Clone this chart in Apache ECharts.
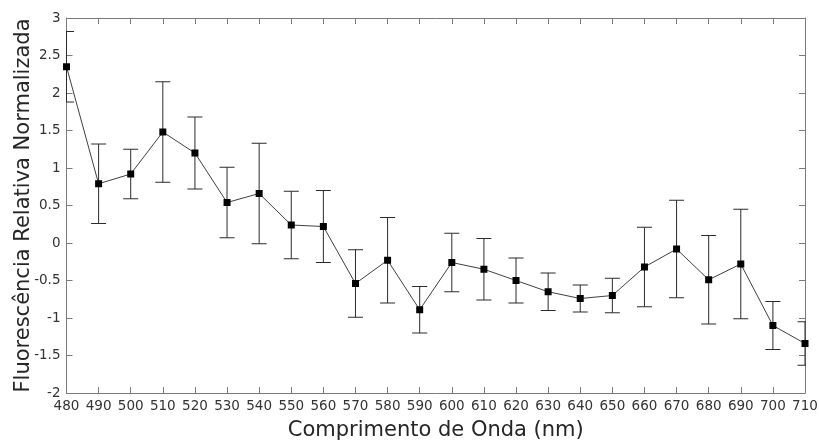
<!DOCTYPE html>
<html>
<head>
<meta charset="utf-8">
<title>Fluorescência Relativa Normalizada</title>
<script src="https://cdn.jsdelivr.net/npm/echarts@6/dist/echarts.min.js"></script>
<style>
    html, body { margin: 0; padding: 0; background: #fff; }
    #main { width: 819px; height: 441px; }
</style>
</head>
<body>
<div id="main"></div>
<script>
    // comprimentos de onda (nm)
    var wavelengths = [480, 490, 500, 510, 520, 530, 540, 550, 560, 570, 580, 590,
                       600, 610, 620, 630, 640, 650, 660, 670, 680, 690, 700, 710];
    // media normalizada
    var means = [2.35, 0.79, 0.92, 1.48, 1.20, 0.54, 0.66, 0.24, 0.22, -0.54, -0.23, -0.89,
                 -0.26, -0.35, -0.50, -0.65, -0.74, -0.70, -0.32, -0.08, -0.49, -0.28, -1.10, -1.34];
    // desvio (barra de erro)
    var errors = [0.47, 0.53, 0.33, 0.67, 0.48, 0.47, 0.67, 0.45, 0.48, 0.45, 0.57, 0.31,
                  0.39, 0.41, 0.30, 0.25, 0.18, 0.23, 0.53, 0.65, 0.59, 0.73, 0.32, 0.29];

    var lineData = [];
    var errData = [];
    for (var i = 0; i < wavelengths.length; i++) {
        lineData.push([wavelengths[i], means[i]]);
        errData.push([wavelengths[i], means[i] - errors[i], means[i] + errors[i]]);
    }

    var axisGray = '#7a7a7a';
    var font = 'DejaVu Sans';

    function frameAxis(extra) {
        var base = {
            type: 'value',
            axisLine: { show: true, onZero: false, lineStyle: { color: axisGray, width: 1 } },
            axisTick: { show: true, inside: true, length: 6, lineStyle: { color: axisGray } },
            splitLine: { show: false }
        };
        for (var k in extra) { base[k] = extra[k]; }
        return base;
    }

    var myChart = echarts.init(document.getElementById('main'));

    var option = {
        animation: false,
        backgroundColor: '#fff',
        textStyle: { fontFamily: font },
        grid: { left: 66.5, right: 14, top: 18, bottom: 48, containLabel: false, outerBoundsMode: 'none' },
        xAxis: [
            frameAxis({
                min: 480, max: 710, interval: 10,
                name: 'Comprimento de Onda (nm)',
                nameLocation: 'middle',
                nameGap: 27,
                nameMoveOverlap: false,
                nameTextStyle: { fontFamily: font, fontSize: 21, color: '#262626' },
                axisLabel: { fontFamily: font, fontSize: 13.5, color: '#333', margin: 6 }
            }),
            frameAxis({
                position: 'top',
                min: 480, max: 710, interval: 10,
                axisLabel: { show: false }
            })
        ],
        yAxis: [
            frameAxis({
                min: -2, max: 3, interval: 0.5,
                name: 'Fluorescência Relativa Normalizada',
                nameLocation: 'middle',
                nameGap: 32,
                nameMoveOverlap: false,
                nameTextStyle: { fontFamily: font, fontSize: 21, color: '#262626' },
                axisLabel: { fontFamily: font, fontSize: 13.5, color: '#333', margin: 6 }
            }),
            frameAxis({
                position: 'right',
                min: -2, max: 3, interval: 0.5,
                axisLabel: { show: false }
            })
        ],
        series: [
            {
                type: 'custom',
                name: 'erro',
                xAxisIndex: 0,
                yAxisIndex: 0,
                clip: true,
                data: errData,
                renderItem: function (params, api) {
                    var x = api.value(0);
                    var lo = api.coord([x, api.value(1)]);
                    var hi = api.coord([x, api.value(2)]);
                    var w = 7.5;
                    var st = { stroke: '#2b2b2b', lineWidth: 1 };
                    return {
                        type: 'group',
                        children: [
                            { type: 'line', shape: { x1: lo[0], y1: lo[1], x2: hi[0], y2: hi[1] }, style: st },
                            { type: 'line', shape: { x1: hi[0] - w, y1: hi[1], x2: hi[0] + w, y2: hi[1] }, style: st },
                            { type: 'line', shape: { x1: lo[0] - w, y1: lo[1], x2: lo[0] + w, y2: lo[1] }, style: st }
                        ]
                    };
                },
                z: 2
            },
            {
                type: 'line',
                name: 'media',
                xAxisIndex: 0,
                yAxisIndex: 0,
                data: lineData,
                symbol: 'rect',
                symbolSize: 7,
                itemStyle: { color: '#000' },
                lineStyle: { color: '#404040', width: 1 },
                z: 3
            }
        ]
    };

    myChart.setOption(option);
</script>
</body>
</html>
